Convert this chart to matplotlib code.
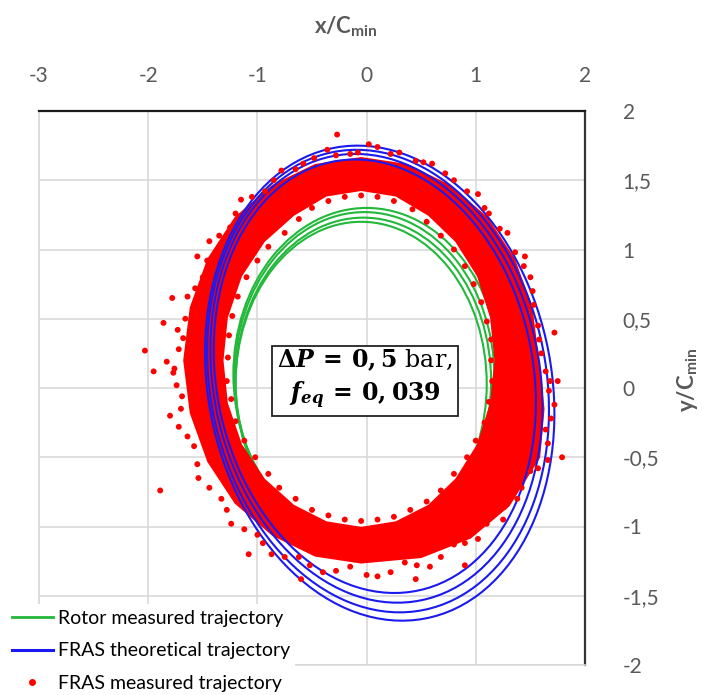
import matplotlib
matplotlib.use('Agg')
import matplotlib.pyplot as plt
from matplotlib.patches import Ellipse, PathPatch
from matplotlib.path import Path
from matplotlib.lines import Line2D

plt.rcParams['mathtext.fontset'] = 'custom'
plt.rcParams['mathtext.rm'] = 'DejaVu Serif'
plt.rcParams['mathtext.it'] = 'DejaVu Serif:italic:bold'
plt.rcParams['mathtext.bf'] = 'DejaVu Serif:bold'
plt.rcParams['mathtext.sf'] = 'Lato:bold'

# ---------------- data ----------------
x_ticks = [-3, -2, -1, 0, 1, 2]
x_tick_labels = ['-3', '-2', '-1', '0', '1', '2']
y_ticks = [2, 1.5, 1, 0.5, 0, -0.5, -1, -1.5, -2]
y_tick_labels = ['2', '1,5', '1', '0,5', '0', '-0,5', '-1', '-1,5', '-2']

series_labels = ['Rotor measured trajectory', 'FRAS theoretical trajectory',
                 'FRAS measured trajectory']

# Rotor measured trajectory: loops (centre, full width, full height, tilt)
green_cx = [0.00, -0.02, -0.03, -0.05]
green_cy = [0.10, 0.08, 0.05, 0.03]
green_w = [2.44, 2.38, 2.34, 2.30]
green_h = [2.40, 2.38, 2.36, 2.34]
green_tilt = [0, 0, 0, 0]

# FRAS theoretical trajectory loops
blue_cx = [0.12, 0.105, 0.09, 0.075]
blue_cy = [0.035, 0.05, 0.07, 0.085]
blue_w = [3.067, 2.999, 2.912, 2.829]
blue_h = [3.549, 3.458, 3.356, 3.240]
blue_tilt = [30.7, 31.4, 31.6, 32.0]

# FRAS measured trajectory: dense band (outer / inner edge of the point cloud)
band_outer_x = [1.57, 1.51, 1.35, 1.10, 0.76, 0.37, -0.05, -0.47, -0.86, -1.20, -1.45, -1.61,
                -1.67, -1.61, -1.45, -1.20, -0.86, -0.47, -0.05, 0.50, 0.95, 1.30, 1.58, 1.62]
band_outer_y = [0.20, 0.58, 0.93, 1.23, 1.46, 1.61, 1.66, 1.61, 1.46, 1.23, 0.93, 0.58,
                0.20, -0.18, -0.53, -0.83, -1.06, -1.21, -1.26, -1.22, -1.08, -0.85, -0.50, -0.15]
band_inner_x = [1.18, 1.14, 1.02, 0.82, 0.57, 0.27, -0.05, -0.37, -0.67, -0.94, -1.15, -1.28,
                -1.32, -1.28, -1.15, -0.94, -0.67, -0.37, -0.05, 0.27, 0.57, 0.82, 1.02, 1.14]
band_inner_y = [0.20, 0.51, 0.81, 1.06, 1.25, 1.39, 1.43, 1.39, 1.25, 1.06, 0.81, 0.51,
                0.20, -0.11, -0.41, -0.66, -0.85, -0.97, -1.01, -0.97, -0.85, -0.66, -0.41, -0.11]

# FRAS measured trajectory: individual points at the fringes of the cloud and outliers
pts_x = [1.60, 1.68, 1.57, 1.53, 1.50, 1.36, 1.29, 1.12, 1.02, 0.80, 0.60, 0.45, 0.22, 0.02,
         -0.15, -0.36, -0.58, -0.78, -0.93, -1.15, -1.25, -1.44, -1.50, -1.64, -1.68, -1.76,
         -1.69, -1.72, -1.58, -1.54, -1.33, -1.24, -1.00, -0.87, -0.62, -0.40, -0.15, 0.10,
         0.35, 0.58, 0.80, 1.02, 1.18, 1.38, 1.50, 1.66, 1.64, 1.72,
         1.58, 1.64, 1.52, 1.44, 1.22, 1.08, 0.92, 0.72, 0.52, 0.30, 0.10, -0.08, -0.28, -0.48,
         -0.65, -0.85, -1.05, -1.20, -1.35, -1.46, -1.57, -1.66, -1.72, -1.74, -1.70, -1.64,
         -1.55, -1.44, -1.28, -1.12, -0.95, -0.75, -0.52, -0.28, 0.00, 0.22, 0.46, 0.68, 0.90,
         1.10, 1.26, 1.42, 1.57, 1.66, 1.69, 1.67,
         1.14, 1.10, 0.98, 0.80, 0.55, 0.25, -0.05, -0.35, -0.62, -0.90, -1.10, -1.23, -1.27,
         -1.24, -1.12, -0.90, -0.65, -0.35, -0.05, 0.25, 0.55, 0.80, 1.00, 1.12,
         1.14, 1.05, 0.90, 0.68, 0.42, 0.10, -0.20, -0.50, -0.75, -1.00, -1.18, -1.26, -1.28,
         -1.20, -1.02, -0.80, -0.50, -0.20, 0.10, 0.40, 0.68, 0.92, 1.08, 1.15,
         -0.27, -2.03, -1.89, 1.79, -1.86, -1.83, -1.95, -1.77, -1.73, -1.80, -1.78, 1.75,
         1.72, -1.08, 0.90, -0.60, 0.45, 1.45, -1.55, 1.25]
pts_y = [0.25, 0.05, 0.45, 0.60, 0.80, 0.98, 1.12, 1.26, 1.40, 1.50, 1.62, 1.64, 1.69, 1.76,
         1.69, 1.72, 1.62, 1.57, 1.42, 1.36, 1.16, 1.06, 0.80, 0.66, 0.36, 0.14,
         -0.06, -0.28, -0.42, -0.65, -0.80, -0.98, -1.06, -1.20, -1.22, -1.33, -1.29, -1.36,
         -1.26, -1.29, -1.13, -1.09, -0.88, -0.80, -0.60, -0.52, -0.30, -0.12,
         0.35, 0.12, 0.70, 0.88, 1.15, 1.30, 1.42, 1.55, 1.63, 1.70, 1.74, 1.70, 1.68, 1.66,
         1.58, 1.50, 1.38, 1.26, 1.10, 0.92, 0.72, 0.50, 0.28, 0.02, -0.15, -0.35,
         -0.55, -0.72, -0.88, -1.02, -1.12, -1.22, -1.28, -1.32, -1.35, -1.33, -1.28, -1.22, -1.12,
         -0.98, -0.86, -0.72, -0.58, -0.40, -0.22, -0.02,
         0.20, 0.48, 0.75, 1.00, 1.20, 1.35, 1.39, 1.35, 1.22, 1.02, 0.80, 0.52, 0.22,
         -0.08, -0.38, -0.62, -0.80, -0.92, -0.96, -0.93, -0.82, -0.62, -0.38, -0.10,
         0.35, 0.62, 0.88, 1.10, 1.29, 1.38, 1.38, 1.30, 1.12, 0.92, 0.66, 0.38, 0.05,
         -0.24, -0.50, -0.72, -0.88, -0.95, -0.95, -0.88, -0.74, -0.50, -0.25, 0.05,
         1.83, 0.27, -0.74, -0.50, 0.47, 0.19, 0.12, 0.11, 0.42, -0.20, 0.65, 0.05,
         0.40, -1.20, -1.28, -1.38, -1.38, 0.95, 0.95, -0.95]

note_line1 = r'$\mathbf{\Delta}P\,\mathbf{=}\,\mathbf{0,5}$ bar,'
note_line2 = r'$f_{eq}\,\mathbf{=}\,\mathbf{0,039}$'

# ---------------- style ----------------
GREEN = '#22B83A'
BLUE = '#1A1AF0'
RED = '#FF0000'
GRID = '#D9D9D9'
TXT = '#595959'
FONT = 'Lato'

fig = plt.figure(figsize=(7.03, 6.95), dpi=100)
ax = fig.add_axes([39 / 703, 1 - 665 / 695, 546 / 703, 554 / 695])
ax.set_xlim(-3, 2)
ax.set_ylim(-2, 2)

ax.set_xticks(x_ticks)
ax.set_xticklabels(x_tick_labels)
ax.set_yticks(y_ticks)
ax.set_yticklabels(y_tick_labels)
ax.xaxis.tick_top()
ax.yaxis.tick_right()
ax.tick_params(axis='both', length=0, labelsize=15, labelcolor=TXT)
ax.tick_params(axis='x', pad=18)
ax.tick_params(axis='y', pad=27)
for lab in ax.get_xticklabels() + ax.get_yticklabels():
    lab.set_fontfamily(FONT)
for lab in ax.get_yticklabels():
    lab.set_horizontalalignment('left')

ax.grid(True, color=GRID, lw=1.2, zorder=0)
ax.set_axisbelow(True)
ax.spines['left'].set_color(GRID)
ax.spines['left'].set_linewidth(1.2)
ax.spines['bottom'].set_color(GRID)
ax.spines['bottom'].set_linewidth(1.2)
ax.spines['top'].set_color('#1a1a1a')
ax.spines['top'].set_linewidth(1.6)
ax.spines['right'].set_color('#333333')
ax.spines['right'].set_linewidth(1.6)

for cx, cy, w, h, t in zip(green_cx, green_cy, green_w, green_h, green_tilt):
    ax.add_patch(Ellipse((cx, cy), w, h, angle=t, fill=False, edgecolor=GREEN, lw=1.5, zorder=2))
for cx, cy, w, h, t in zip(blue_cx, blue_cy, blue_w, blue_h, blue_tilt):
    ax.add_patch(Ellipse((cx, cy), w, h, angle=t, fill=False, edgecolor=BLUE, lw=1.5, zorder=2.7))

# red dense band
verts = list(zip(band_outer_x, band_outer_y)) + [(band_outer_x[0], band_outer_y[0])]
verts += list(zip(band_inner_x[::-1], band_inner_y[::-1])) + [(band_inner_x[-1], band_inner_y[-1])]
n_o = len(band_outer_x)
n_i = len(band_inner_x)
codes = [Path.MOVETO] + [Path.LINETO] * (n_o - 1) + [Path.CLOSEPOLY]
codes += [Path.MOVETO] + [Path.LINETO] * (n_i - 1) + [Path.CLOSEPOLY]
ax.add_patch(PathPatch(Path(verts, codes), facecolor=RED, edgecolor=RED, lw=1.5,
                       joinstyle='round', zorder=2.5))

ax.scatter(pts_x, pts_y, s=18, color=RED, edgecolors='none', zorder=3)

ax.text(-0.015, 0.065, note_line1 + '\n' + note_line2, ha='center', va='center',
        fontsize=17, family='DejaVu Serif', linespacing=1.3, zorder=5,
        bbox=dict(boxstyle='square,pad=0.22', facecolor='white', edgecolor='#222222', lw=1.3))

# axis titles
fig.text(346 / 703, 1 - 27 / 695, r'$\mathsf{x/C_{min}}$', ha='center', va='center',
         fontsize=16, color=TXT)
fig.text(688 / 703, 1 - 380 / 695, r'$\mathsf{y/C_{min}}$', ha='center', va='center',
         fontsize=16, color=TXT, rotation=90)

handles = [Line2D([], [], color=GREEN, lw=2),
           Line2D([], [], color=BLUE, lw=2.2),
           Line2D([], [], color=RED, marker='o', ls='none', ms=4)]
leg = fig.legend(handles, series_labels, loc='upper left', bbox_to_anchor=(6 / 703, 1 - 604 / 695),
                 frameon=True, facecolor='white', edgecolor='none', fancybox=False, framealpha=1,
                 borderpad=0.3, handlelength=2.1, handletextpad=0.25, labelspacing=0.8,
                 borderaxespad=0, prop={'family': FONT, 'size': 14})
leg.set_zorder(10)

fig.savefig('out.png', dpi=100)
